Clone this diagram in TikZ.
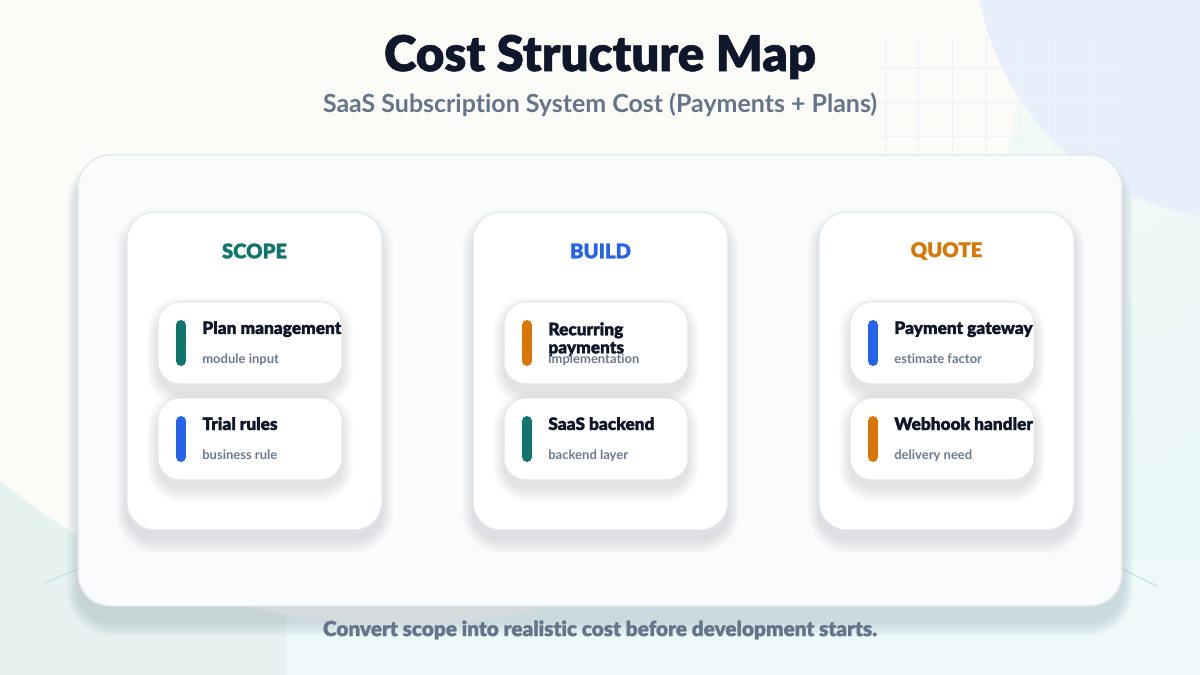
\documentclass[tikz,border=0pt]{standalone}
\usepackage{fontspec}
\setmainfont{Lato}[Ligatures=NoCommon]
\newfontfamily\heavy{Lato Black}[Ligatures=NoCommon, FakeBold=1.2]
\definecolor{teal}{HTML}{0F766E}
\definecolor{blueC}{HTML}{2563EB}
\definecolor{orangeC}{HTML}{D97706}
\definecolor{navy}{HTML}{0F172A}
\definecolor{slate}{HTML}{64748B}
\definecolor{subgray}{HTML}{6B7A90}
\definecolor{bgA}{HTML}{FCFBF6}
\definecolor{bgB}{HTML}{EAF8F7}
\definecolor{circB}{HTML}{E9EFFA}
\definecolor{paneledge}{HTML}{E3E8EE}
\definecolor{panelfill}{HTML}{FAFBFC}
\definecolor{gridc}{HTML}{EEF1F6}
\definecolor{greenbg}{HTML}{E6F2F0}
\definecolor{mintbg}{HTML}{EDFAF9}
\definecolor{whitebg}{HTML}{FBFBF8}
\definecolor{arcline}{HTML}{C8E1DE}
\definecolor{shadowc}{HTML}{334466}
\newcommand\softshadow[7]{% cx, cy, halfw, halfh, radius px, dy, opacity
  \foreach \kk in {1,...,14}{%
    \pgfmathsetmacro\rr{(#5+\kk*1.0)*0.567}%
    \fill[shadowc, opacity=#7, rounded corners=\rr pt]
      ({#1-#3-\kk*0.8},{#2-#4-\kk*1.0+#6}) rectangle ({#1+#3+\kk*0.8},{#2+#4+\kk*1.0+#6});
  }}
\tikzset{
  panelbox/.style={draw=paneledge, line width=0.8pt, fill=panelfill, rounded corners=0.64cm,
    minimum width=20.88cm, minimum height=9.02cm},
  cardbox/.style={draw=paneledge, line width=0.6pt, fill=white, rounded corners=0.56cm,
    minimum width=5.1cm, minimum height=6.36cm},
  itembox/.style={draw=paneledge, line width=0.6pt, fill=white, rounded corners=0.44cm,
    minimum width=3.68cm, minimum height=1.64cm},
  headtxt/.style={font=\heavy\fontsize{11.5}{12}\selectfont},
  ititle/.style={anchor=base west, inner sep=0pt, text=navy, align=left, font=\heavy\fontsize{9.8}{10.3}\selectfont},
  isub/.style={anchor=base west, inner sep=0pt, text=subgray, font=\bfseries\fontsize{7.4}{8}\selectfont},
  bar/.style={line width=0.2cm, line cap=round},
}
\begin{document}
\begin{tikzpicture}[x=0.02cm, y=-0.02cm]
\useasboundingbox (0,0) rectangle (1200,675);
% background
\shade[shading=axis, top color=bgA, bottom color=bgB, shading angle=35] (0,0) rectangle (1200,675);
\fill[greenbg] (0,470) rectangle (300,675);
\fill[mintbg] (287,560) rectangle (1200,675);
\clip (0,0) rectangle (1200,675);
\fill[whitebg] (400,0) circle (625);
\fill[circB] (1245,-50) circle (270);
% grid
\foreach \gx in {885,918,952,986,1020,1054,1088} \draw[gridc, line width=0.4pt] (\gx,37) -- (\gx,155);
\foreach \gy in {68,102,136} \draw[gridc, line width=0.4pt] (875,\gy) -- (1120,\gy);
% faint arc lines behind panel
\draw[arcline, line width=0.7pt] (45,583) -- (80,568);
\draw[arcline, line width=0.7pt] (1120,568) -- (1157,586);
% title
\node[text=navy, font=\heavy\fontsize{28}{30}\selectfont] (title) at (600,57) {Cost Structure Map};
\node[text=slate, font=\bfseries\fontsize{14.2}{16}\selectfont] (subtitle) at (600,105) {SaaS Subscription System Cost (Payments + Plans)};
% panel
\softshadow{600}{380.5}{522}{225.5}{32}{16}{0.01}
\node[panelbox] (panel) at (600,380.5) {};
% cards
\softshadow{254.5}{371}{127.5}{159}{28}{10}{0.008}
\softshadow{600.5}{371}{127.5}{159}{28}{10}{0.008}
\softshadow{946.5}{371}{127.5}{159}{28}{10}{0.008}
\node[cardbox] (scope) at (254.5,371) {};
\node[cardbox] (build) at (600.5,371) {};
\node[cardbox] (quote) at (946.5,371) {};
\node[headtxt, text=teal] (h1) at (254.5,251) {SCOPE};
\node[headtxt, text=blueC] (h2) at (600.5,251) {BUILD};
\node[headtxt, text=orangeC] (h3) at (946.5,251) {QUOTE};
% item shadows
\foreach \cx in {250,596,942}{
  \softshadow{\cx}{343}{92}{41}{22}{8}{0.008}
  \softshadow{\cx}{439}{92}{41}{22}{8}{0.008}
}
% items scope
\node[itembox] (i11) at (250,343) {};
\node[itembox] (i12) at (250,439) {};
\draw[bar, teal] (181,325) -- (181,361);
\draw[bar, blueC] (181,421) -- (181,457);
\node[ititle] (t11) at (202,334) {Plan management};
\node[isub] (s11) at (202,363.5) {module input};
\node[ititle] (t12) at (202,430) {Trial rules};
\node[isub] (s12) at (202,459.5) {business rule};
% items build
\node[itembox] (i21) at (596,343) {};
\node[itembox] (i22) at (596,439) {};
\draw[bar, orangeC] (527,325) -- (527,361);
\draw[bar, teal] (527,421) -- (527,457);
\node[ititle, anchor=north west] (t21) at (548,322) {Recurring\\payments};
\node[isub] (s21) at (548,363.5) {implementation};
\node[ititle] (t22) at (548,430) {SaaS backend};
\node[isub] (s22) at (548,459.5) {backend layer};
% items quote
\node[itembox] (i31) at (942,343) {};
\node[itembox] (i32) at (942,439) {};
\draw[bar, blueC] (873,325) -- (873,361);
\draw[bar, orangeC] (873,421) -- (873,457);
\node[ititle] (t31) at (894,334) {Payment gateway};
\node[isub] (s31) at (894,363.5) {estimate factor};
\node[ititle] (t32) at (894,430) {Webhook handler};
\node[isub] (s32) at (894,459.5) {delivery need};
% footer
\node[text=slate, font=\heavy\fontsize{11.8}{13}\selectfont] (footer) at (600,630) {Convert scope into realistic cost before development starts.};
\end{tikzpicture}
\end{document}
